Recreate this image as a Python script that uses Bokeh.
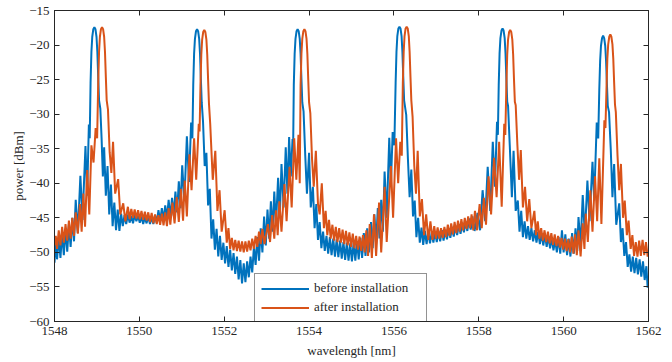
from bokeh.plotting import figure
from bokeh.models import Range1d, LinearAxis, Legend, LegendItem
from bokeh.embed import file_html
from bokeh.resources import INLINE

# ---- data (wavelength nm, power dBm) ----
x_ticks = [1548, 1550, 1552, 1554, 1556, 1558, 1560, 1562]
y_ticks = [-60, -55, -50, -45, -40, -35, -30, -25, -20, -15]

before_installation = [
    (1548.00, -51.5), (1548.03, -48.3), (1548.06, -51.0), (1548.10, -47.8), (1548.14, -50.8),
    (1548.18, -47.2), (1548.22, -50.4), (1548.26, -46.6), (1548.30, -49.9), (1548.34, -45.9),
    (1548.38, -49.2), (1548.42, -45.0), (1548.46, -48.4), (1548.50, -42.4), (1548.55, -47.2),
    (1548.61, -38.9), (1548.66, -45.3), (1548.73, -34.6), (1548.77, -41.8), (1548.81, -31.5),
    (1548.83, -33.5), (1548.85, -25.5), (1548.87, -21.0), (1548.89, -18.8), (1548.915, -17.7),
    (1548.94, -17.4), (1548.965, -17.7), (1548.99, -18.8), (1549.01, -21.0), (1549.03, -24.6),
    (1549.05, -28.0), (1549.08, -29.2),
    (1549.11, -33.5), (1549.14, -39.0), (1549.17, -34.8), (1549.21, -41.8), (1549.25, -37.5),
    (1549.29, -44.5), (1549.33, -40.2), (1549.37, -46.2), (1549.41, -42.8), (1549.45, -46.8),
    (1549.49, -43.8), (1549.53, -46.9), (1549.57, -44.4), (1549.61, -46.2), (1549.65, -44.6),
    (1549.69, -45.9), (1549.73, -44.5), (1549.77, -45.7), (1549.81, -44.7), (1549.85, -45.8),
    (1549.89, -44.6), (1549.93, -45.5), (1549.97, -44.7), (1550.01, -45.7), (1550.05, -44.8),
    (1550.09, -45.9), (1550.13, -44.9), (1550.17, -45.8), (1550.21, -44.7), (1550.25, -45.9),
    (1550.29, -44.9), (1550.33, -45.9), (1550.37, -44.6), (1550.41, -45.7), (1550.45, -43.9),
    (1550.49, -45.5), (1550.53, -43.6), (1550.57, -45.3), (1550.61, -43.2), (1550.65, -45.1),
    (1550.69, -42.4), (1550.73, -45.0), (1550.77, -42.1), (1550.81, -44.7), (1550.85, -41.2),
    (1550.89, -44.2), (1550.93, -39.7), (1550.97, -43.6), (1551.01, -37.4), (1551.06, -42.6),
    (1551.12, -33.2), (1551.17, -39.8), (1551.22, -31.2), (1551.25, -33.5), (1551.27, -25.8),
    (1551.29, -21.3), (1551.31, -19.1), (1551.335, -18.0), (1551.36, -17.7), (1551.385, -18.0),
    (1551.41, -19.1), (1551.43, -21.3), (1551.45, -24.9), (1551.47, -28.3), (1551.50, -31.0),
    (1551.54, -37.5), (1551.58, -35.6),
    (1551.62, -43.2), (1551.66, -40.8), (1551.70, -48.0), (1551.74, -45.2), (1551.78, -49.6),
    (1551.82, -46.6), (1551.86, -50.6), (1551.90, -47.6), (1551.94, -51.1), (1551.98, -48.6),
    (1552.02, -51.6), (1552.06, -49.1), (1552.10, -52.1), (1552.14, -49.6), (1552.18, -52.6),
    (1552.22, -50.1), (1552.26, -53.1), (1552.30, -50.6), (1552.34, -53.9), (1552.38, -51.1),
    (1552.42, -54.5), (1552.46, -51.6), (1552.50, -54.3), (1552.54, -51.3), (1552.58, -53.6),
    (1552.62, -50.6), (1552.66, -52.9), (1552.70, -49.2), (1552.74, -51.8), (1552.78, -47.8),
    (1552.82, -51.2), (1552.86, -46.5), (1552.90, -50.0), (1552.94, -44.8), (1552.98, -49.0),
    (1553.02, -43.8), (1553.06, -48.0), (1553.10, -42.6), (1553.14, -47.0), (1553.18, -41.2),
    (1553.22, -46.0), (1553.27, -39.2), (1553.31, -45.0), (1553.35, -37.2), (1553.40, -43.5),
    (1553.45, -34.8), (1553.49, -41.5), (1553.53, -33.3), (1553.57, -39.0), (1553.61, -33.6),
    (1553.625, -34.5), (1553.64, -25.8), (1553.66, -21.3), (1553.68, -19.1), (1553.705, -18.0),
    (1553.73, -17.7), (1553.755, -18.0), (1553.78, -19.1), (1553.80, -21.3), (1553.82, -24.9),
    (1553.84, -28.3), (1553.87, -29.6), (1553.91, -36.0),
    (1553.95, -41.5), (1554.00, -35.6), (1554.04, -43.5), (1554.09, -40.5), (1554.13, -46.5),
    (1554.17, -43.0), (1554.21, -48.2), (1554.25, -45.6), (1554.29, -49.4), (1554.33, -47.0),
    (1554.37, -49.8), (1554.41, -47.6), (1554.45, -50.2), (1554.49, -47.8), (1554.53, -50.4),
    (1554.57, -48.0), (1554.61, -50.6), (1554.65, -48.1), (1554.69, -50.7), (1554.73, -48.3),
    (1554.77, -50.9), (1554.81, -48.5), (1554.85, -51.1), (1554.89, -48.6), (1554.93, -51.2),
    (1554.97, -48.7), (1555.01, -51.3), (1555.05, -48.6), (1555.09, -51.2), (1555.13, -48.4),
    (1555.17, -51.0), (1555.21, -47.9), (1555.25, -50.8), (1555.29, -47.2), (1555.33, -50.5),
    (1555.37, -46.5), (1555.41, -50.0), (1555.46, -45.6), (1555.50, -49.4), (1555.54, -44.5),
    (1555.58, -48.8), (1555.62, -43.6), (1555.66, -48.0), (1555.70, -42.4), (1555.74, -47.0),
    (1555.78, -38.3), (1555.83, -45.0), (1555.89, -33.4), (1555.93, -40.0), (1555.97, -32.6),
    (1556.01, -34.5), (1556.04, -25.5), (1556.06, -21.0), (1556.08, -18.7), (1556.105, -17.6),
    (1556.13, -17.35), (1556.155, -17.6), (1556.18, -18.7), (1556.20, -21.0), (1556.22, -24.6),
    (1556.24, -28.0), (1556.29, -30.1), (1556.33, -36.5),
    (1556.37, -42.0), (1556.41, -38.0), (1556.45, -44.8),
    (1556.49, -42.5), (1556.53, -47.8), (1556.57, -45.0), (1556.61, -48.6), (1556.65, -46.4),
    (1556.69, -48.9), (1556.73, -46.9), (1556.77, -48.8), (1556.81, -47.0), (1556.85, -48.7),
    (1556.89, -47.1), (1556.93, -48.6), (1556.97, -47.0), (1557.01, -48.5), (1557.05, -46.9),
    (1557.09, -48.4), (1557.13, -46.8), (1557.17, -48.3), (1557.21, -46.7), (1557.25, -48.1),
    (1557.29, -46.5), (1557.33, -47.9), (1557.37, -46.3), (1557.41, -47.7), (1557.45, -46.1),
    (1557.49, -47.5), (1557.53, -45.9), (1557.57, -47.3), (1557.61, -45.7), (1557.65, -47.1),
    (1557.69, -45.5), (1557.73, -46.9), (1557.77, -45.1), (1557.81, -46.7), (1557.85, -44.8),
    (1557.90, -46.9), (1557.97, -44.3), (1558.03, -46.8), (1558.09, -41.0), (1558.15, -45.5),
    (1558.21, -37.6), (1558.27, -44.0), (1558.33, -34.0), (1558.38, -40.5), (1558.43, -31.1),
    (1558.45, -33.0), (1558.47, -25.8), (1558.49, -21.2), (1558.51, -19.0), (1558.535, -17.9),
    (1558.56, -17.6), (1558.585, -17.9), (1558.61, -19.0), (1558.63, -21.2), (1558.65, -24.8),
    (1558.67, -28.2), (1558.69, -28.8), (1558.73, -34.5),
    (1558.78, -42.0), (1558.82, -35.3), (1558.87, -44.0), (1558.92, -42.5),
    (1558.96, -47.0), (1559.00, -44.0), (1559.04, -47.8), (1559.08, -45.5), (1559.12, -48.0),
    (1559.16, -46.2), (1559.20, -48.2), (1559.24, -46.5), (1559.28, -48.4), (1559.32, -46.8),
    (1559.36, -48.6), (1559.40, -47.0), (1559.44, -48.8), (1559.48, -47.2), (1559.52, -49.0),
    (1559.56, -47.4), (1559.60, -49.2), (1559.64, -47.6), (1559.68, -49.4), (1559.72, -47.9),
    (1559.76, -49.7), (1559.80, -48.2), (1559.84, -50.0), (1559.88, -47.8), (1559.92, -50.2),
    (1559.96, -46.8), (1560.00, -50.0), (1560.04, -47.4), (1560.08, -50.4), (1560.12, -48.0),
    (1560.16, -50.6), (1560.20, -47.2), (1560.24, -50.2), (1560.28, -46.5), (1560.32, -49.8),
    (1560.35, -44.9), (1560.40, -49.0), (1560.45, -41.7), (1560.50, -47.5), (1560.56, -39.6),
    (1560.61, -45.5), (1560.68, -36.9), (1560.72, -42.5), (1560.78, -31.2), (1560.815, -33.5),
    (1560.84, -26.5), (1560.86, -22.3), (1560.88, -20.1), (1560.905, -19.0), (1560.93, -18.65),
    (1560.955, -19.0), (1560.98, -20.1), (1561.00, -22.3), (1561.02, -25.6), (1561.04, -28.8),
    (1561.07, -29.7), (1561.11, -35.0),
    (1561.15, -42.0), (1561.19, -37.2), (1561.24, -46.0), (1561.31, -42.9), (1561.35, -48.5),
    (1561.39, -46.5), (1561.43, -50.5), (1561.47, -48.5), (1561.51, -52.1), (1561.55, -50.3),
    (1561.59, -52.8), (1561.63, -50.6), (1561.67, -53.0), (1561.71, -50.8), (1561.75, -53.2),
    (1561.79, -51.0), (1561.83, -53.5), (1561.87, -51.3), (1561.91, -54.0), (1561.95, -52.0),
    (1561.98, -55.1), (1562.00, -54.0),
]

after_installation = [
    (1548.00, -49.0), (1548.03, -47.6), (1548.06, -49.5), (1548.10, -46.8), (1548.14, -49.0),
    (1548.18, -46.3), (1548.22, -48.6), (1548.26, -45.9), (1548.30, -48.3), (1548.34, -45.4),
    (1548.38, -48.0), (1548.42, -45.0), (1548.46, -47.6), (1548.50, -44.2), (1548.55, -47.3),
    (1548.60, -43.0), (1548.64, -47.0), (1548.68, -41.5), (1548.72, -46.3), (1548.77, -38.1),
    (1548.82, -44.5), (1548.87, -34.5), (1548.92, -37.0), (1548.97, -32.0), (1549.005, -33.5),
    (1549.03, -25.5), (1549.05, -21.0), (1549.07, -18.8), (1549.095, -17.7), (1549.12, -17.4),
    (1549.145, -17.7), (1549.17, -18.8), (1549.19, -21.0), (1549.21, -24.6), (1549.23, -28.0),
    (1549.26, -29.3), (1549.30, -35.5),
    (1549.34, -38.5), (1549.38, -34.0), (1549.43, -41.5), (1549.50, -39.4), (1549.55, -44.5),
    (1549.62, -42.9), (1549.67, -45.5), (1549.73, -43.4), (1549.77, -45.2), (1549.81, -43.7),
    (1549.85, -45.0), (1549.89, -43.8), (1549.93, -45.1), (1549.97, -43.9), (1550.01, -45.2),
    (1550.05, -44.0), (1550.09, -45.3), (1550.13, -44.1), (1550.17, -45.4), (1550.21, -44.2),
    (1550.25, -45.6), (1550.29, -44.3), (1550.33, -45.8), (1550.37, -44.5), (1550.41, -45.9),
    (1550.45, -44.6), (1550.49, -46.0), (1550.53, -44.4), (1550.57, -46.1), (1550.61, -44.2),
    (1550.65, -46.2), (1550.69, -43.6), (1550.73, -46.0), (1550.78, -42.8), (1550.83, -45.8),
    (1550.88, -42.0), (1550.93, -45.6), (1550.98, -40.8), (1551.03, -45.4), (1551.07, -39.6),
    (1551.12, -44.8), (1551.18, -35.8), (1551.23, -41.0), (1551.29, -33.5), (1551.34, -39.5),
    (1551.40, -31.4), (1551.42, -32.5), (1551.44, -25.9), (1551.46, -21.4), (1551.48, -19.2),
    (1551.505, -18.1), (1551.53, -17.8), (1551.555, -18.1), (1551.58, -19.2), (1551.60, -21.4),
    (1551.62, -25.0), (1551.64, -28.4), (1551.67, -31.4),
    (1551.73, -39.5), (1551.79, -35.3), (1551.84, -44.0), (1551.89, -41.0),
    (1551.94, -47.0), (1552.01, -43.9), (1552.06, -48.6), (1552.10, -46.5), (1552.14, -49.5),
    (1552.18, -47.9), (1552.22, -49.7), (1552.26, -48.2), (1552.30, -49.8), (1552.34, -48.3),
    (1552.38, -49.9), (1552.42, -48.4), (1552.46, -50.0), (1552.50, -48.4), (1552.54, -49.9),
    (1552.58, -48.3), (1552.62, -49.7), (1552.66, -48.0), (1552.70, -49.5), (1552.74, -47.6),
    (1552.78, -49.2), (1552.82, -47.0), (1552.86, -48.8), (1552.90, -46.6), (1552.95, -48.8),
    (1553.03, -45.9), (1553.08, -48.5), (1553.13, -44.6), (1553.18, -48.0), (1553.22, -43.9),
    (1553.26, -47.5), (1553.30, -42.6), (1553.35, -47.0), (1553.42, -40.1), (1553.47, -45.5),
    (1553.54, -37.6), (1553.59, -43.5), (1553.65, -33.5), (1553.70, -39.5), (1553.75, -33.0),
    (1553.78, -40.0), (1553.80, -25.8), (1553.82, -21.3), (1553.84, -19.1), (1553.865, -18.0),
    (1553.89, -17.7), (1553.915, -18.0), (1553.94, -19.1), (1553.96, -21.3), (1553.98, -24.9),
    (1554.00, -28.3), (1554.03, -29.9),
    (1554.07, -36.5), (1554.11, -40.5), (1554.16, -35.3), (1554.21, -43.0), (1554.25, -44.5),
    (1554.30, -40.0), (1554.35, -46.5), (1554.39, -44.0), (1554.43, -47.5), (1554.47, -45.3),
    (1554.51, -48.0), (1554.55, -46.0), (1554.59, -48.3), (1554.63, -46.3), (1554.67, -48.5),
    (1554.71, -46.5), (1554.75, -48.6), (1554.79, -46.7), (1554.83, -48.8), (1554.87, -46.9),
    (1554.91, -49.0), (1554.95, -47.1), (1554.99, -49.2), (1555.03, -47.3), (1555.07, -49.4),
    (1555.11, -47.6), (1555.15, -49.6), (1555.19, -47.7), (1555.23, -49.8), (1555.27, -47.5),
    (1555.31, -50.0), (1555.35, -46.8), (1555.39, -50.5), (1555.43, -45.9), (1555.48, -50.8),
    (1555.53, -44.5), (1555.58, -50.5), (1555.65, -42.8), (1555.70, -50.0), (1555.78, -40.5),
    (1555.83, -48.5), (1555.93, -37.5), (1555.98, -45.0), (1556.05, -33.5), (1556.10, -40.0),
    (1556.15, -34.0), (1556.185, -36.0), (1556.21, -25.5), (1556.23, -21.0), (1556.25, -18.7),
    (1556.275, -17.6), (1556.30, -17.35), (1556.325, -17.6), (1556.35, -18.7), (1556.37, -21.0),
    (1556.39, -24.6), (1556.41, -28.0), (1556.44, -30.4),
    (1556.48, -37.5), (1556.52, -41.5), (1556.56, -35.3), (1556.61, -44.8),
    (1556.66, -42.3), (1556.71, -47.5), (1556.76, -44.5), (1556.81, -48.2), (1556.86, -45.5),
    (1556.91, -48.2), (1556.95, -46.2), (1556.99, -48.0), (1557.03, -46.4), (1557.07, -48.0),
    (1557.11, -46.5), (1557.15, -47.9), (1557.19, -46.3), (1557.23, -47.8), (1557.27, -46.0),
    (1557.31, -47.6), (1557.35, -45.8), (1557.39, -47.4), (1557.43, -45.6), (1557.47, -47.2),
    (1557.51, -45.4), (1557.55, -47.0), (1557.59, -45.2), (1557.63, -46.8), (1557.67, -45.0),
    (1557.71, -46.6), (1557.75, -44.8), (1557.79, -46.5), (1557.83, -44.5), (1557.87, -46.8),
    (1557.91, -44.0), (1557.96, -46.8), (1558.02, -43.0), (1558.07, -46.5), (1558.12, -42.1),
    (1558.17, -46.0), (1558.23, -39.0), (1558.29, -44.5), (1558.36, -36.3), (1558.42, -42.0),
    (1558.48, -34.0), (1558.54, -43.4), (1558.60, -31.4), (1558.625, -33.0), (1558.65, -25.9),
    (1558.67, -21.4), (1558.69, -19.2), (1558.715, -18.1), (1558.74, -17.8), (1558.765, -18.1),
    (1558.79, -19.2), (1558.81, -21.4), (1558.83, -25.0), (1558.85, -28.2), (1558.87, -28.7),
    (1558.91, -34.5), (1558.95, -39.5),
    (1558.99, -35.2), (1559.04, -43.5), (1559.09, -40.5), (1559.14, -45.5), (1559.19, -42.3),
    (1559.24, -46.5), (1559.31, -44.0), (1559.35, -47.5), (1559.39, -45.5), (1559.43, -48.0),
    (1559.47, -46.5), (1559.51, -48.3), (1559.55, -46.8), (1559.59, -48.5), (1559.63, -47.0),
    (1559.67, -48.7), (1559.71, -47.2), (1559.75, -48.9), (1559.79, -47.4), (1559.83, -49.1),
    (1559.87, -47.6), (1559.91, -49.3), (1559.95, -47.9), (1559.99, -49.6), (1560.03, -48.0),
    (1560.07, -49.8), (1560.11, -48.1), (1560.15, -50.0), (1560.19, -47.7), (1560.23, -50.2),
    (1560.27, -47.4), (1560.31, -50.4), (1560.35, -46.8), (1560.40, -50.6), (1560.45, -45.8),
    (1560.49, -49.5), (1560.52, -44.4), (1560.57, -48.5), (1560.63, -41.0), (1560.68, -47.0),
    (1560.74, -39.0), (1560.79, -45.5), (1560.84, -36.4), (1560.89, -45.9), (1560.96, -30.9),
    (1560.985, -32.0), (1561.01, -26.3), (1561.03, -22.0), (1561.05, -19.9), (1561.075, -18.8),
    (1561.10, -18.45), (1561.125, -18.8), (1561.15, -19.9), (1561.17, -22.0), (1561.19, -25.4),
    (1561.21, -28.6), (1561.23, -29.7),
    (1561.27, -36.0), (1561.31, -41.0), (1561.35, -37.2), (1561.40, -45.0), (1561.44, -42.5),
    (1561.49, -47.5), (1561.53, -45.4), (1561.58, -49.5), (1561.62, -47.5), (1561.66, -50.5),
    (1561.70, -48.5), (1561.74, -50.6), (1561.78, -48.3), (1561.82, -50.5), (1561.86, -48.2),
    (1561.90, -50.4), (1561.94, -48.5), (1561.98, -50.6), (1562.00, -49.8),
]

before_wl = [p[0] for p in before_installation]
before_db = [p[1] for p in before_installation]
after_wl = [p[0] for p in after_installation]
after_db = [p[1] for p in after_installation]

BLUE = "#0072BD"
ORANGE = "#D95319"
AXC = "#262626"
FONT = "Liberation Serif"

p = figure(width=672, height=362, output_backend="svg", toolbar_location=None,
           x_range=Range1d(1548, 1562), y_range=Range1d(-60, -15),
           x_axis_label="wavelength [nm]", y_axis_label="power [dBm]",
           min_border_left=54, min_border_right=24, min_border_top=10, min_border_bottom=41)
p.grid.visible = False
p.outline_line_color = AXC
p.outline_line_width = 1
p.background_fill_color = "white"
p.border_fill_color = "white"

p.xaxis.ticker = x_ticks
p.yaxis.ticker = y_ticks

top = LinearAxis(ticker=x_ticks, major_label_overrides={t: "" for t in x_ticks})
right = LinearAxis(ticker=y_ticks, major_label_overrides={t: "" for t in y_ticks})
p.add_layout(top, "above")
p.add_layout(right, "right")

for ax in p.axis:
    ax.major_tick_in = 5
    ax.major_tick_out = 0
    ax.minor_tick_line_color = None
    ax.axis_line_color = AXC
    ax.axis_line_width = 1
    ax.major_tick_line_color = AXC
    ax.major_label_text_font = FONT
    ax.major_label_text_font_size = "13px"
    ax.major_label_text_color = AXC
    ax.axis_label_text_font = FONT
    ax.axis_label_text_font_size = "13px"
    ax.axis_label_text_font_style = "normal"
    ax.axis_label_text_color = AXC

for ax in (top, right):
    ax.major_label_text_font_size = "0px"
    ax.major_label_standoff = 0

p.xaxis[0].major_label_standoff = 6
p.xaxis[0].axis_label_standoff = 2
p.yaxis[0].major_label_standoff = 5
p.yaxis[0].axis_label_standoff = 0

rb = p.line(before_wl, before_db, line_color=BLUE, line_width=2)
ro = p.line(after_wl, after_db, line_color=ORANGE, line_width=2)

legend = Legend(items=[LegendItem(label="before installation", renderers=[rb]),
                       LegendItem(label="after installation", renderers=[ro])],
                location=(200, -1))
legend.border_line_color = AXC
legend.border_line_width = 1
legend.background_fill_color = "white"
legend.background_fill_alpha = 1
legend.label_text_font = FONT
legend.label_text_font_size = "13px"
legend.label_text_color = AXC
legend.glyph_width = 48
legend.glyph_height = 15
legend.label_height = 15
legend.label_width = 106
legend.spacing = 3
legend.padding = 6
legend.margin = 0
legend.label_standoff = 5
p.add_layout(legend, "center")

open("out.html", "w").write(file_html(p, INLINE))
